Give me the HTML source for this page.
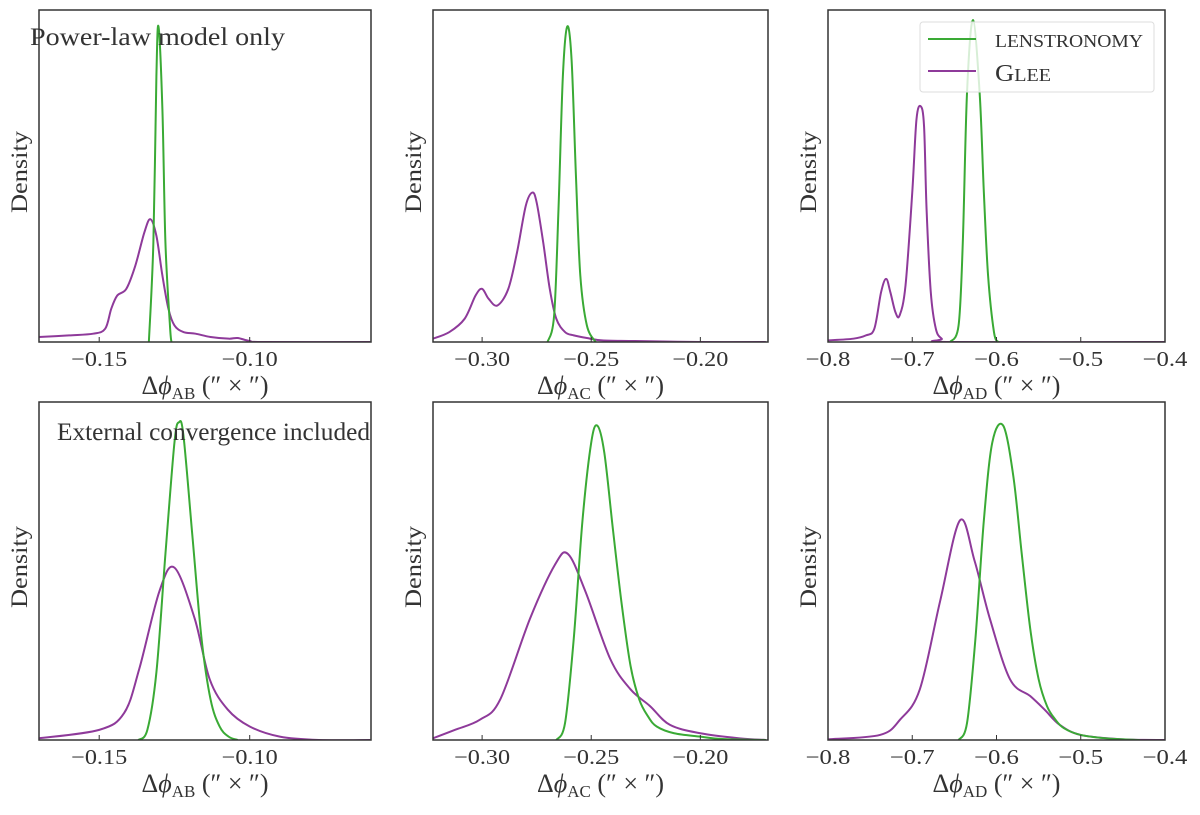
<!DOCTYPE html>
<html><head><meta charset="utf-8"><style>
body{margin:0;background:#fff}
svg text{font-family:"Liberation Serif",serif;fill:#333}
</style></head><body>
<svg id="chart" width="1200" height="810" xmlns="http://www.w3.org/2000/svg"></svg>
<script>
// Panel x-ranges and ticks
const panelXMin=[-0.17,-0.3225,-0.8,-0.17,-0.3225,-0.8];
const panelXMax=[-0.0597,-0.169,-0.4,-0.0597,-0.169,-0.4];
const tickVals=[[-0.15,-0.10],[-0.30,-0.25,-0.20],[-0.8,-0.7,-0.6,-0.5,-0.4],[-0.15,-0.10],[-0.30,-0.25,-0.20],[-0.8,-0.7,-0.6,-0.5,-0.4]];
const tickLabels=[["−0.15","−0.10"],["−0.30","−0.25","−0.20"],["−0.8","−0.7","−0.6","−0.5","−0.4"],["−0.15","−0.10"],["−0.30","−0.25","−0.20"],["−0.8","−0.7","−0.6","−0.5","−0.4"]];
const subs=["AB","AC","AD","AB","AC","AD"];
// Density series (x values, relative density)
const lensX=[
[-0.1335,-0.132,-0.131,-0.1303,-0.129,-0.128,-0.1265,-0.126],
[-0.270,-0.267,-0.265,-0.263,-0.261,-0.259,-0.257,-0.255,-0.252,-0.248],
[-0.655,-0.645,-0.64,-0.635,-0.628,-0.62,-0.615,-0.61,-0.603,-0.598],
[-0.137,-0.134,-0.131,-0.128,-0.125,-0.1235,-0.122,-0.119,-0.116,-0.113,-0.110,-0.107,-0.104],
[-0.266,-0.262,-0.258,-0.254,-0.250,-0.2472,-0.244,-0.240,-0.236,-0.232,-0.228,-0.224,-0.220,-0.212,-0.200,-0.19,-0.17],
[-0.645,-0.635,-0.625,-0.615,-0.605,-0.592,-0.58,-0.57,-0.56,-0.55,-0.54,-0.53,-0.52,-0.50,-0.47,-0.43]];
const lensY=[
[0,0.3,0.8,0.95,0.7,0.3,0.05,0],
[0,0.08,0.4,0.8,0.95,0.85,0.5,0.2,0.05,0],
[0,0.05,0.3,0.75,0.97,0.75,0.45,0.2,0.03,0],
[0,0.03,0.2,0.55,0.88,0.94,0.9,0.6,0.3,0.12,0.04,0.01,0],
[0,0.05,0.3,0.65,0.88,0.93,0.85,0.62,0.4,0.22,0.12,0.07,0.04,0.02,0.01,0.003,0],
[0,0.05,0.3,0.65,0.88,0.93,0.78,0.55,0.33,0.18,0.1,0.06,0.035,0.015,0.005,0]];
const gleeX=[
[-0.17,-0.16,-0.152,-0.148,-0.146,-0.144,-0.141,-0.138,-0.135,-0.133,-0.131,-0.129,-0.127,-0.125,-0.122,-0.118,-0.113,-0.107,-0.104,-0.10,-0.095,-0.06],
[-0.3225,-0.315,-0.308,-0.303,-0.300,-0.297,-0.293,-0.288,-0.284,-0.280,-0.277,-0.275,-0.272,-0.269,-0.266,-0.262,-0.258,-0.252,-0.245,-0.23,-0.2,-0.17],
[-0.8,-0.77,-0.755,-0.745,-0.737,-0.731,-0.726,-0.72,-0.715,-0.708,-0.700,-0.695,-0.690,-0.686,-0.683,-0.678,-0.672,-0.665,-0.655,-0.4],
[-0.17,-0.15,-0.1417,-0.1367,-0.13,-0.125,-0.1183,-0.1133,-0.1073,-0.1,-0.09,-0.077,-0.06],
[-0.3225,-0.3124,-0.301,-0.2917,-0.278,-0.2665,-0.2606,-0.2527,-0.2413,-0.232,-0.223,-0.214,-0.2,-0.182,-0.17],
[-0.8,-0.7383,-0.7145,-0.691,-0.667,-0.6433,-0.626,-0.608,-0.584,-0.56,-0.543,-0.525,-0.5,-0.45,-0.4]];
const gleeY=[
[0.015,0.02,0.025,0.04,0.10,0.14,0.16,0.23,0.33,0.37,0.32,0.2,0.1,0.05,0.03,0.025,0.015,0.01,0.012,0.003,0,0],
[0.01,0.03,0.07,0.14,0.16,0.13,0.11,0.16,0.27,0.41,0.45,0.42,0.3,0.16,0.07,0.03,0.02,0.012,0.005,0.003,0,0],
[0.005,0.01,0.02,0.04,0.15,0.19,0.15,0.09,0.08,0.17,0.45,0.67,0.71,0.65,0.4,0.15,0.04,0.01,0,0],
[0.005,0.03,0.08,0.21,0.44,0.51,0.36,0.18,0.09,0.04,0.01,0,0],
[0.005,0.03,0.06,0.12,0.36,0.52,0.55,0.44,0.24,0.15,0.1,0.045,0.02,0.005,0],
[0.002,0.015,0.06,0.15,0.41,0.65,0.53,0.36,0.18,0.13,0.09,0.045,0.015,0.002,0]];

const NS="http://www.w3.org/2000/svg";
const svg=document.getElementById('chart');
function mk(tag,attrs,parent){const e=document.createElementNS(NS,tag);for(const k in attrs)e.setAttribute(k,attrs[k]);(parent||svg).appendChild(e);return e;}
const colsL=[39,433,828], colsR=[371,768,1165];
const rowsT=[10,402], rowsB=[342,740];
function smoothPath(pts){let d=`M${pts[0][0]},${pts[0][1]}`;for(let i=0;i<pts.length-1;i++){const p0=pts[Math.max(0,i-1)],p1=pts[i],p2=pts[i+1],p3=pts[Math.min(pts.length-1,i+2)];const c1=[p1[0]+(p2[0]-p0[0])/6,p1[1]+(p2[1]-p0[1])/6],c2=[p2[0]-(p3[0]-p1[0])/6,p2[1]-(p3[1]-p1[1])/6];d+=` C${c1[0]},${c1[1]} ${c2[0]},${c2[1]} ${p2[0]},${p2[1]}`;}return d;}
for(let p=0;p<6;p++){
  const c=p%3,r=Math.floor(p/3);
  const L=colsL[c],R=colsR[c],T=rowsT[r],B=rowsB[r];
  const xs=v=>L+(v-panelXMin[p])/(panelXMax[p]-panelXMin[p])*(R-L);
  const ys=v=>B-v*(B-T);
  const g=mk('g',{});
  
  
  const clipId='clip'+p;
  const cp=mk('clipPath',{id:clipId},g);mk('rect',{x:L,y:T,width:R-L,height:B-T},cp);
  const series=[[gleeX[p],gleeY[p],'#8e3a9a','glee-curve'],[lensX[p],lensY[p],'#3aaa35','lenstronomy-curve']];
  for(const s of series){
    const pts=s[0].map((v,i)=>[xs(v),ys(s[1][i])]);
    const path=mk('path',{d:smoothPath(pts),fill:'none',stroke:s[2],'stroke-width':2,'clip-path':`url(#${clipId})`},g);
    
    
  }
  const fr=mk('rect',{x:L,y:T,width:R-L,height:B-T,fill:'none',stroke:'#333','stroke-width':1.5},g);
  
  
  tickVals[p].forEach((v,i)=>{
    const x=xs(v);
    mk('line',{x1:x,x2:x,y1:B,y2:B-5,stroke:'#333','stroke-width':1},g);
    const lab=tickLabels[p][i];
    const t=mk('text',{x:x,y:B+24,'text-anchor':'middle','font-size':21,textLength:lab.length*11.2,lengthAdjust:'spacingAndGlyphs'},g);
    t.textContent=lab;
    
    
  });
  const xl=mk('text',{x:(L+R)/2,y:B+52,'text-anchor':'middle','font-size':26},g);
  xl.innerHTML=`Δ<tspan font-style="italic">ϕ</tspan><tspan font-size="17" dy="5">${subs[p]}</tspan><tspan dy="-5"> (″ × ″)</tspan>`;
  
  
  const yl=mk('text',{x:0,y:0,'text-anchor':'middle','font-size':23,textLength:82,lengthAdjust:'spacingAndGlyphs',transform:`translate(${L-12},${(T+B)/2-4}) rotate(-90)`},g);
  yl.textContent='Density';
  
  
}
const a1=mk('text',{x:30,y:45,'font-size':25,textLength:255,lengthAdjust:'spacingAndGlyphs'});a1.textContent='Power-law model only';


const a2=mk('text',{x:57,y:440,'font-size':25,textLength:313,lengthAdjust:'spacingAndGlyphs'});a2.textContent='External convergence included';


const lg=mk('g',{});


mk('rect',{x:920,y:22,width:234,height:70,rx:3,fill:'rgba(255,255,255,0.8)',stroke:'#ddd'},lg);
mk('line',{x1:928,x2:976,y1:39,y2:39,stroke:'#3aaa35','stroke-width':2},lg);
mk('line',{x1:928,x2:976,y1:71,y2:71,stroke:'#8e3a9a','stroke-width':2},lg);
const l1=mk('text',{x:995,y:47,'font-size':18,textLength:148,lengthAdjust:'spacingAndGlyphs'},lg);l1.textContent='LENSTRONOMY';


const l2=mk('text',{x:995,y:81,'font-size':24,textLength:56,lengthAdjust:'spacingAndGlyphs'},lg);l2.innerHTML='G<tspan font-size="18">LEE</tspan>';


</script>
</body></html>
